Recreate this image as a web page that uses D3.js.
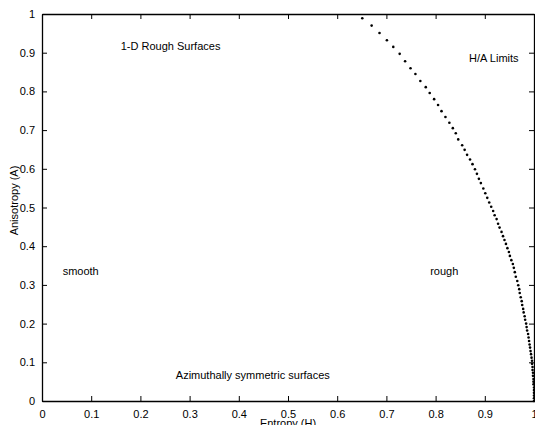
<!DOCTYPE html>
<html>
<head>
<meta charset="utf-8">
<script src="https://cdn.jsdelivr.net/npm/d3@7"></script>
<style>
  body { margin: 0; background: #fff; }
  text { font-family: "Liberation Sans", Arial, sans-serif; font-size: 11px; fill: #000; }
</style>
</head>
<body>
<div class="chart"></div>
<script>
// H/A limit curve (entropy, anisotropy)
var entropyH = [0.651, 0.670, 0.686, 0.701, 0.714, 0.727, 0.738, 0.749, 0.759, 0.769,
  0.780, 0.788, 0.797, 0.805, 0.812, 0.820, 0.828, 0.835, 0.841, 0.846,
  0.854, 0.859, 0.864, 0.870, 0.875, 0.880, 0.884, 0.888, 0.892, 0.897,
  0.901, 0.905, 0.909, 0.913, 0.917, 0.920, 0.924, 0.927, 0.930, 0.934,
  0.937, 0.940, 0.943, 0.946, 0.949, 0.951, 0.954, 0.957, 0.959, 0.961,
  0.963, 0.966, 0.968, 0.970, 0.971, 0.973, 0.975, 0.976, 0.978, 0.979,
  0.981, 0.982, 0.984, 0.985, 0.986, 0.988, 0.989, 0.990, 0.991, 0.992,
  0.993, 0.994, 0.995, 0.996, 0.996, 0.997, 0.997, 0.998, 0.998, 0.999,
  0.999, 0.999, 1.000, 1.000, 1.000, 1.000, 1.000, 1.000];
var anisoA = [0.989, 0.970, 0.951, 0.932, 0.915, 0.897, 0.878, 0.860, 0.845, 0.827,
  0.811, 0.796, 0.780, 0.765, 0.749, 0.734, 0.719, 0.705, 0.692, 0.676,
  0.661, 0.649, 0.636, 0.624, 0.612, 0.599, 0.587, 0.574, 0.563, 0.549,
  0.537, 0.525, 0.513, 0.502, 0.491, 0.480, 0.470, 0.458, 0.448, 0.437,
  0.426, 0.416, 0.406, 0.395, 0.385, 0.375, 0.364, 0.354, 0.344, 0.333,
  0.321, 0.310, 0.299, 0.289, 0.279, 0.268, 0.258, 0.248, 0.238, 0.229,
  0.219, 0.210, 0.200, 0.191, 0.182, 0.173, 0.164, 0.155, 0.146, 0.138,
  0.129, 0.121, 0.112, 0.104, 0.096, 0.088, 0.080, 0.073, 0.065, 0.057,
  0.050, 0.043, 0.035, 0.028, 0.021, 0.014, 0.007, 0.000];

var xTicks = [0, 0.1, 0.2, 0.3, 0.4, 0.5, 0.6, 0.7, 0.8, 0.9, 1];
var yTicks = [0, 0.1, 0.2, 0.3, 0.4, 0.5, 0.6, 0.7, 0.8, 0.9, 1];

// region labels: [text, H, A]
var labels = [
  ["1-D Rough Surfaces", 0.16, 0.907],
  ["H/A Limits", 0.868, 0.875],
  ["smooth", 0.042, 0.326],
  ["rough", 0.789, 0.326],
  ["Azimuthally symmetric surfaces", 0.272, 0.057]
];

var margin = {top: 14, right: 1, bottom: 24, left: 42},
    width = 535 - margin.left - margin.right,
    height = 425 - margin.top - margin.bottom;

var x = d3.scaleLinear().domain([0, 1]).range([0, width]);
var y = d3.scaleLinear().domain([0, 1]).range([height, 0]);

var svg = d3.select(".chart").append("svg")
    .attr("width", 535)
    .attr("height", 425)
  .append("g")
    .attr("transform", "translate(" + margin.left + "," + margin.top + ")");

// bottom axis, ticks pointing in
var xAxis = d3.axisBottom(x).tickValues(xTicks).tickSizeInner(-5).tickSizeOuter(0).tickPadding(9)
    .tickFormat(function(d) { return d; });
svg.append("g")
    .attr("transform", "translate(0," + height + ")")
    .call(xAxis);

// top axis, ticks only
svg.append("g")
    .call(d3.axisTop(x).tickValues(xTicks).tickSizeInner(-5).tickSizeOuter(0).tickFormat(""));

// left axis
var yAxis = d3.axisLeft(y).tickValues(yTicks).tickSizeInner(-5).tickSizeOuter(0).tickPadding(7)
    .tickFormat(function(d) { return d; });
svg.append("g")
    .call(yAxis);

// right axis, ticks only
svg.append("g")
    .attr("transform", "translate(" + width + ",0)")
    .call(d3.axisRight(y).tickValues(yTicks).tickSizeInner(-5).tickSizeOuter(0).tickFormat(""));

svg.selectAll(".domain").attr("stroke", "#000").attr("stroke-width", 1.3);
svg.selectAll(".tick line").attr("stroke", "#000").attr("stroke-width", 1);
svg.selectAll(".tick text").style("font-size", "11px").attr("fill", "#000");

// H/A limit dots
svg.selectAll(".limdot")
    .data(entropyH)
    .enter().append("circle")
    .attr("class", "limdot")
    .attr("cx", function(d) { return x(d); })
    .attr("cy", function(d, i) { return y(anisoA[i]); })
    .attr("r", 1.3)
    .style("fill", "#000");

// region labels
svg.selectAll(".region")
    .data(labels)
    .enter().append("text")
    .attr("class", "region")
    .attr("x", function(d) { return x(d[1]); })
    .attr("y", function(d) { return y(d[2]); })
    .text(function(d) { return d[0]; });

// axis titles
svg.append("text")
    .attr("x", width / 2)
    .attr("y", height + 26)
    .attr("text-anchor", "middle")
    .text("Entropy (H)");

svg.append("text")
    .attr("transform", "translate(" + (-24) + "," + (height / 2 - 7) + ") rotate(-90)")
    .attr("text-anchor", "middle")
    .text("Anisotropy (A)");
</script>
</body>
</html>
